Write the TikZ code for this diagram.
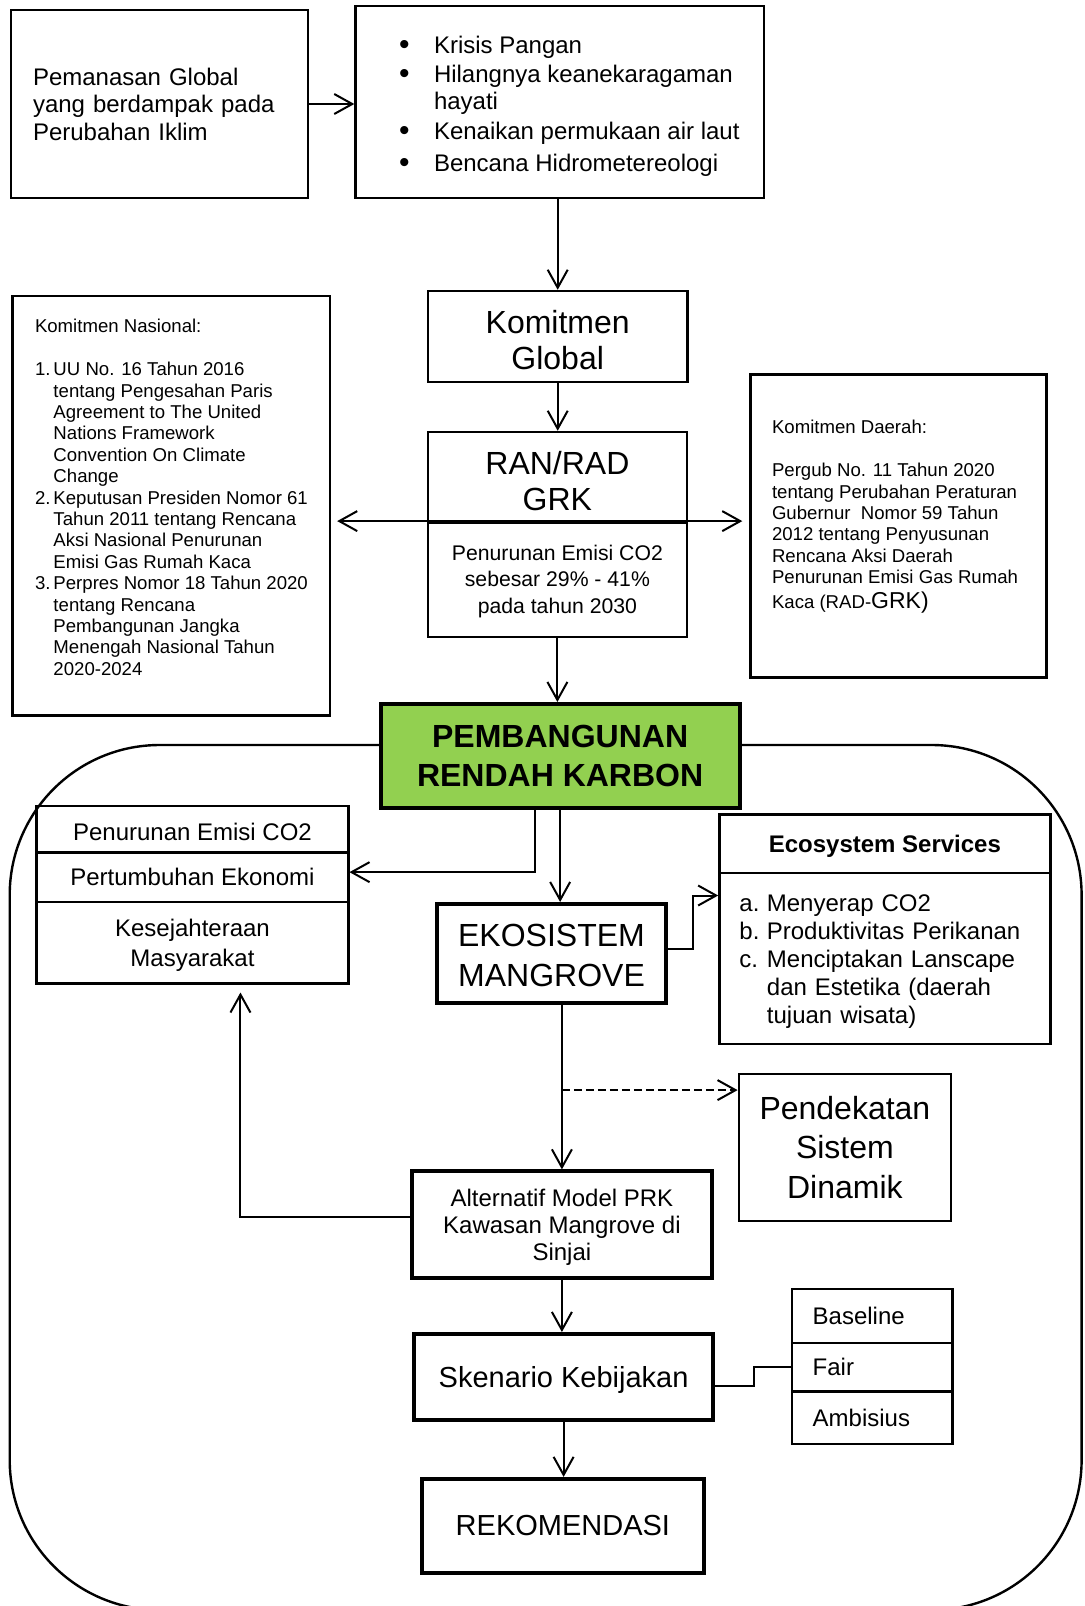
\documentclass[tikz,border=0pt]{standalone}
\usepackage{fontspec}
\setmainfont{Liberation Sans}
\usetikzlibrary{arrows.meta, calc, positioning}
\definecolor{prkgreen}{HTML}{92D050}
\newcommand{\fsz}[2]{\fontsize{#1}{#2}\selectfont}
\newcommand{\numlbl}[1]{\makebox[9.25pt][l]{#1}}
\newcommand{\abclbl}[1]{\makebox[13.75pt][l]{#1}}
\newcommand{\bul}{\makebox[17.5pt][l]{\raisebox{-0.6pt}{\fsz{15}{15}\textbullet}}}
\newcommand{\txtdrop}[1]{\rule{0pt}{#1}}

\begin{document}
\begin{tikzpicture}[x=0.5pt, y=-0.5pt, >={Straight Barb[length=9pt,width=10pt]}, line width=1pt]
	\tikzstyle{format} = [draw, line width=1.2pt, rectangle, inner sep=0pt, align=center, font=\fsz{12}{13.8}]
	\tikzstyle{heavy} = [format, line width=2pt]
	\tikzstyle{link} = [->, line width=1pt]
	\tikzstyle{sunk} = [execute at begin node={\rule{0pt}{0.95em}}]

	\useasboundingbox (0,0) rectangle (1085,1606);

	% outer frame
	\draw[line width=1.2pt, rounded corners=75pt] (9.7,745) rectangle (1081.6,1610);

	% top part
	\node[format, minimum width=148.5pt, minimum height=94pt, text width=126.5pt, align=left, font=\fsz{12}{13.75}] (pem) at (159.5,104)
		{Pemanasan Global\\yang berdampak pada\\Perubahan Iklim};
	\node[format, minimum width=204.25pt, minimum height=96pt] (dampak) at (559.75,102) {};
	\node[anchor=west, inner sep=0pt, align=left, font=\fsz{12}{13.25}] (dampaktxt) at (398,106)
		{\bul Krisis Pangan\\[1.5pt]
		 \bul Hilangnya keanekaragaman\\
		 \makebox[17.5pt][l]{}hayati\\[2pt]
		 \bul Kenaikan permukaan air laut\\[2.5pt]
		 \bul Bencana Hidrometereologi};

	\node[format, minimum width=129.9pt, minimum height=45.35pt, font=\fsz{16}{17.9}] (kglobal) at (557.7,336.35) {\txtdrop{0.94em}Komitmen\\Global};
	\node[format, minimum width=129.6pt, minimum height=45.15pt, font=\fsz{16}{18.4}] (rana) at (557.4,477.15) {\txtdrop{0.97em}RAN/RAD\\GRK};
	\node[format, minimum width=129.6pt, minimum height=57.35pt, font=\fsz{10.6}{13.35}] (ranb) at (557.4,579.65)
		{\txtdrop{0.9em}Penurunan Emisi CO2\\sebesar 29\% - 41\%\\pada tahun 2030};

	% side panels
	\node[format, minimum width=158.8pt, minimum height=209.8pt] (nas) at (171.2,505.5) {};
	\node[anchor=north west, inner sep=0pt, align=left, font=\fsz{9.3}{10.7}] (nastxt) at (34,318.5)
		{Komitmen Nasional:\\[10.7pt]
		 \numlbl{1.}UU No. 16 Tahun 2016\\
		 \numlbl{}tentang Pengesahan Paris\\
		 \numlbl{}Agreement to The United\\
		 \numlbl{}Nations Framework\\
		 \numlbl{}Convention On Climate\\
		 \numlbl{}Change\\
		 \numlbl{2.}Keputusan Presiden Nomor 61\\
		 \numlbl{}Tahun 2011 tentang Rencana\\
		 \numlbl{}Aksi Nasional Penurunan\\
		 \numlbl{}Emisi Gas Rumah Kaca\\
		 \numlbl{3.}Perpres Nomor 18 Tahun 2020\\
		 \numlbl{}tentang Rencana\\
		 \numlbl{}Pembangunan Jangka\\
		 \numlbl{}Menengah Nasional Tahun\\
		 \numlbl{}2020-2024};
	\node[format, minimum width=147.9pt, minimum height=151.5pt] (dae) at (898.4,525.8) {};
	\node[anchor=north west, inner sep=0pt, align=left, font=\fsz{9.3}{10.7}] (daetxt) at (771,419.4)
		{Komitmen Daerah:\\[10.7pt]
		 Pergub No. 11 Tahun 2020\\
		 tentang Perubahan Peraturan\\
		 Gubernur\ \ Nomor 59 Tahun\\
		 2012 tentang Penyusunan\\
		 Rencana Aksi Daerah\\
		 Penurunan Emisi Gas Rumah\\[1.5pt]
		 Kaca (RAD-{\fsz{11.5}{12}GRK)}};

	% low carbon development
	\node[format, line width=2pt, fill=prkgreen, minimum width=179.35pt, minimum height=52.15pt, font=\bfseries\fsz{16}{19.65}] (prk) at (560.15,756.15)
		{PEMBANGUNAN\\RENDAH KARBON};

	\node[format, sunk, minimum width=155.85pt, minimum height=23.15pt] (pe1) at (192.45,829.15) {Penurunan Emisi CO2};
	\node[format, minimum width=155.85pt, minimum height=24.85pt] (pe2) at (192.45,877.15) {Pertumbuhan Ekonomi};
	\node[format, minimum width=155.85pt, minimum height=40.65pt, font=\fsz{12}{15}] (pe3) at (192.45,942.65) {\txtdrop{0.97em}Kesejahteraan\\Masyarakat};

	\node[heavy, minimum width=114.7pt, minimum height=49.35pt, font=\fsz{16}{20}] (eko) at (551.5,953.35) {\txtdrop{0.84em}EKOSISTEM\\MANGROVE};

	\node[format, sunk, minimum width=165.5pt, minimum height=29.2pt, font=\bfseries\fsz{12}{13.8}] (ecoh) at (884.9,843.5) {Ecosystem Services};
	\node[format, sunk, minimum width=165.5pt, minimum height=85.65pt, text width=145.5pt, align=left, font=\fsz{12}{13.95}] (ecob) at (884.9,958.35)
		{\abclbl{a.}Menyerap CO2\\
		 \abclbl{b.}Produktivitas Perikanan\\
		 \abclbl{c.}Menciptakan Lanscape\\
		 \abclbl{}dan Estetika (daerah\\
		 \abclbl{}tujuan wisata)};

	\node[format, minimum width=106.1pt, minimum height=73.5pt, font=\fsz{16}{19.6}] (pend) at (844.9,1147.4) {Pendekatan\\Sistem\\Dinamik};
	\node[heavy, minimum width=149.9pt, minimum height=53.1pt, font=\fsz{12}{13.4}] (alt) at (561.9,1224.5)
		{\txtdrop{0.97em}Alternatif Model PRK\\Kawasan Mangrove di\\Sinjai};
	\node[heavy, sunk, minimum width=149.6pt, minimum height=43.2pt, font=\fsz{14.5}{16}] (sken) at (563.6,1377.2) {Skenario Kebijakan};

	\node[format, minimum width=80.15pt, minimum height=26.95pt, text width=59.45pt, align=left] (bas) at (872.15,1315.75) {Baseline};
	\node[format, minimum width=80.15pt, minimum height=24.4pt, text width=59.45pt, align=left] (fair) at (872.15,1367.1) {Fair};
	\node[format, minimum width=80.15pt, minimum height=26.25pt, text width=59.45pt, align=left] (amb) at (872.15,1417.75) {Ambisius};

	\node[heavy, minimum width=141.3pt, minimum height=46.8pt, font=\fsz{14.5}{16}] (rek) at (562.9,1525.7) {REKOMENDASI};

	% connectors
	\draw[link] (pem.east) -- (pem.east -| dampak.west);
	\draw[link] (kglobal.north |- dampak.south) -- (kglobal.north);
	\draw[link] (kglobal.south) -- (kglobal.south |- rana.north);
	\draw[<->, shorten <=3pt, shorten >=3.5pt] (nas.east |- ranb.north) -- (dae.west |- ranb.north);
	\draw[link] (ranb.south) -- (ranb.south |- prk.north);
	\draw[link] ($(prk.south)+(-25,0)$) |- ($(pe2.east)+(0,-5)$);
	\draw[link] (prk.south) -- (prk.south |- eko.north);
	\draw[link] ($(eko.east)+(0,-4)$) -- ++(25,0) |- ($(ecob.north west)+(0,24)$);
	\draw[link] (alt.north |- eko.south) -- (alt.north);
	\draw[link, dash pattern=on 4pt off 2pt] ($(alt.north |- pend.north)+(0,17.4)$) coordinate (dsh) -- (dsh -| pend.west);
	\draw[link] ($(alt.west)+(0,-8)$) -| ($(pe3.south)+(48,8)$);
	\draw[link] (alt.south) -- (alt.south |- sken.north);
	\draw ($(sken.east)+(0,8.4)$) -- ++(39,0) |- (fair.west);
	\draw[link] (sken.south) -- (sken.south |- rek.north);
\end{tikzpicture}
\end{document}
